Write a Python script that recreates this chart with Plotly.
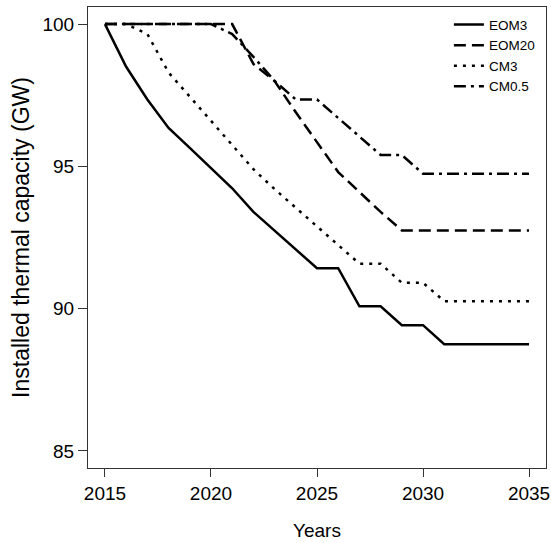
import plotly.graph_objects as go

years = list(range(2015, 2036))
eom3 = [100, 98.5, 97.35, 96.35, 95.65, 94.95, 94.23, 93.4, 92.75, 92.1, 91.42,
        91.42, 90.08, 90.08, 89.42, 89.42, 88.75, 88.75, 88.75, 88.75, 88.75]
eom20 = [100, 100, 100, 100, 100, 100, 100, 98.6, 98.0, 96.9, 95.85,
         94.8, 94.1, 93.4, 92.75, 92.75, 92.75, 92.75, 92.75, 92.75, 92.75]
cm3 = [100, 100, 99.65, 98.3, 97.45, 96.6, 95.75, 94.9, 94.2, 93.55, 92.9,
       92.24, 91.58, 91.58, 90.91, 90.91, 90.26, 90.26, 90.26, 90.26, 90.26]
cm05 = [100, 100, 100, 100, 100, 100, 99.65, 98.85, 98.0, 97.35, 97.35,
        96.7, 96.05, 95.4, 95.4, 94.74, 94.74, 94.74, 94.74, 94.74, 94.74]

series_names = ["EOM3", "EOM20", "CM3", "CM0.5"]
series_vals = [eom3, eom20, cm3, cm05]
dashes = ["solid", "12px,6px", "3px,6px", "12px,5px,3px,5px"]

xticks = [2015, 2020, 2025, 2030, 2035]
yticks = [85, 90, 95, 100]
x_title = "Years"
y_title = "Installed thermal capacity (GW)"

fig = go.Figure()
for name, vals, d in zip(series_names, series_vals, dashes):
    fig.add_trace(go.Scatter(x=years, y=vals, mode="lines", name=name,
                             line=dict(color="black", width=2.5, dash=d)))

font = "Liberation Sans, Arial, sans-serif"
fig.update_layout(
    width=551, height=543,
    margin=dict(l=88, r=5, t=7, b=75, autoexpand=False),
    paper_bgcolor="white", plot_bgcolor="white",
    font=dict(family=font, size=19, color="black"),
    showlegend=True,
    legend=dict(x=0.788, y=0.995, xanchor="left", yanchor="top",
                bgcolor="rgba(0,0,0,0)", font=dict(size=13.5),
                tracegroupgap=0, itemwidth=30),
    xaxis=dict(range=[2014.2, 2035.8], tickvals=xticks, ticks="outside",
               ticklen=8, tickcolor="#333", showgrid=False, zeroline=False,
               showline=True, mirror=True, linecolor="#333", linewidth=1),
    yaxis=dict(range=[84.4, 100.6], tickvals=yticks, ticks="outside",
               ticklen=9, tickcolor="#333", showgrid=False, zeroline=False,
               showline=True, mirror=True, linecolor="#333", linewidth=1,
               title=dict(text=y_title, standoff=6)),
    annotations=[dict(text=x_title, xref="paper", yref="paper", x=0.5, y=0,
                      xanchor="center", yanchor="middle", yshift=-62,
                      showarrow=False, font=dict(size=19))],
)
fig.write_html("out.html", config={"displayModeBar": False})

with open("out.html", "r", encoding="utf-8") as f:
    html = f.read()
html = html.replace("<head>", "<head><style>html,body{margin:0;padding:0;overflow:hidden;}</style>", 1)
with open("out.html", "w", encoding="utf-8") as f:
    f.write(html)
